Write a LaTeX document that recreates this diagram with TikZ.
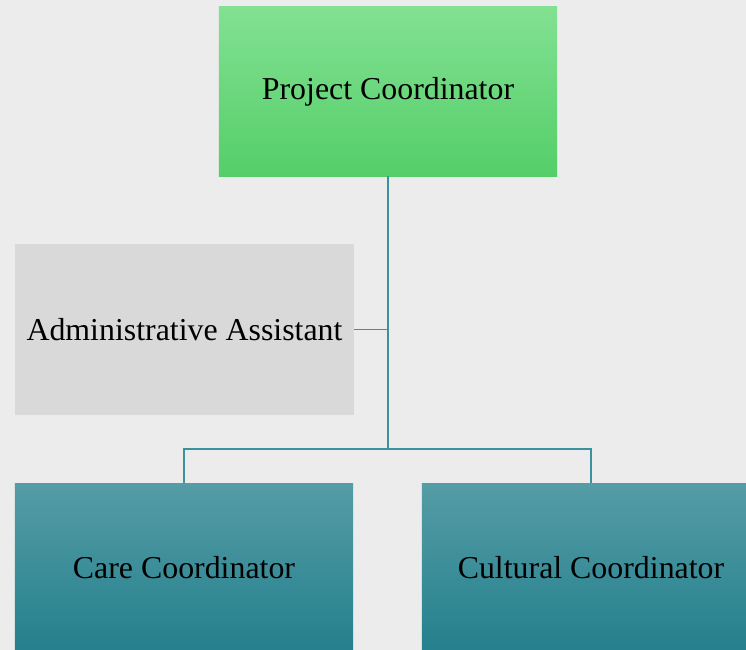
\documentclass[tikz,border=0pt]{standalone}
\usepackage{fontspec}
\setmainfont{Liberation Serif}
\definecolor{paper}{HTML}{ECECEC}
\definecolor{leadtop}{HTML}{82E192}
\definecolor{leadbot}{HTML}{55CE69}
\definecolor{assistfill}{HTML}{D9D9D9}
\definecolor{stafftop}{HTML}{559CA6}
\definecolor{staffbot}{HTML}{23808C}
\definecolor{linkcol}{HTML}{3A929E}
\tikzstyle{lead}=[rectangle,top color=leadtop,bottom color=leadbot,minimum width=10.14cm,minimum height=5.07cm,inner sep=0pt,font=\fontsize{27.2}{32}\selectfont]
\tikzstyle{assist}=[rectangle,fill=assistfill,minimum width=10.17cm,minimum height=5.1cm,inner sep=0pt,font=\fontsize{27.2}{32}\selectfont]
\tikzstyle{staff}=[rectangle,top color=stafftop,bottom color=staffbot,minimum width=10.14cm,minimum height=5.07cm,inner sep=0pt,font=\fontsize{27.2}{32}\selectfont]
\tikzstyle{link}=[draw=linkcol,line width=0.9pt]

\begin{document}
\begin{tikzpicture}[x=0.03cm,y=-0.03cm]
\useasboundingbox (0,0) rectangle (746,650);
\clip (0,0) rectangle (746,650);
\fill[paper] (0,0) rectangle (746,650);
\node[lead] at (388,91.5) (pc) {Project Coordinator};
\node[assist] at (184.5,329.5) (aa) {Administrative Assistant};
\node[staff] at (184,568) (cc) {Care Coordinator};
\node[staff] at (591,568) (cu) {Cultural Coordinator};
\coordinate (split) at (388,449);
\draw[link] (pc.south) -- (split);
\draw[link] (aa.east) -- (aa.east -| pc.south);
\draw[link] (cc.north) |- (split) -| (cu.north);
\end{tikzpicture}
\end{document}
